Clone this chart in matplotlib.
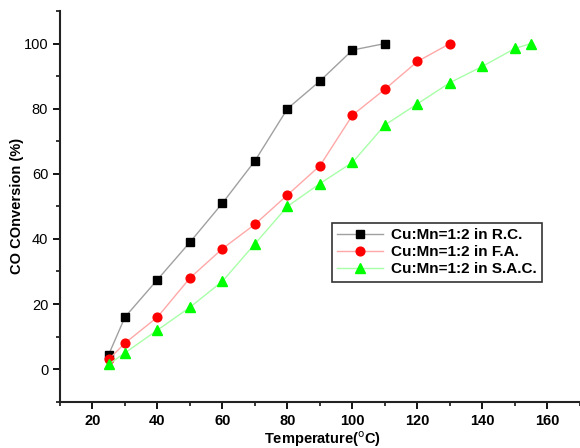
import matplotlib
matplotlib.use("Agg")
import matplotlib.pyplot as plt
from matplotlib.ticker import MultipleLocator

plt.rcParams['font.family'] = ['Liberation Sans', 'DejaVu Sans']

# CO conversion vs temperature for three supports
temp_rc = [25, 30, 40, 50, 60, 70, 80, 90, 100, 110]
conv_rc = [4.5, 16, 27.5, 39, 51, 64, 80, 88.5, 98, 100]

temp_fa = [25, 30, 40, 50, 60, 70, 80, 90, 100, 110, 120, 130]
conv_fa = [3, 8, 16, 28, 37, 44.5, 53.5, 62.5, 78, 86, 94.5, 100]

temp_sac = [25, 30, 40, 50, 60, 70, 80, 90, 100, 110, 120, 130, 140, 150, 155]
conv_sac = [1.5, 5, 12, 19, 27, 38.5, 50, 57, 63.5, 75, 81.5, 88, 93, 98.5, 100]

labels = ['Cu:Mn=1:2 in R.C.', 'Cu:Mn=1:2 in F.A.', 'Cu:Mn=1:2 in S.A.C.']

fig = plt.figure(figsize=(5.8, 4.48), dpi=100)
ax = fig.add_axes([0.1034, 0.1033, 0.8966, 0.8722])

ax.plot(temp_rc, conv_rc, color='#a0a0a0', lw=1.0, marker='s', ms=5.5,
        mfc='black', mec='black', label=labels[0])
ax.plot(temp_fa, conv_fa, color='#ffa8a8', lw=1.0, marker='o', ms=6.3,
        mfc='red', mec='red', label=labels[1])
ax.plot(temp_sac, conv_sac, color='#a8ffa8', lw=1.0, marker='^', ms=6.8,
        mfc='#00ff00', mec='#00ff00', label=labels[2])

ax.set_xlim(10, 170)
ax.set_ylim(-10, 110)
ax.xaxis.set_minor_locator(MultipleLocator(10))
ax.yaxis.set_minor_locator(MultipleLocator(10))
ax.set_xticks(range(20, 161, 20))
ax.set_yticks(range(0, 101, 20))

for side in ['top', 'right']:
    ax.spines[side].set_visible(False)
for side in ['left', 'bottom']:
    ax.spines[side].set_linewidth(1.5)
    ax.spines[side].set_color('#222222')

ax.tick_params(which='major', direction='out', length=5, width=1.3, labelsize=10.5)
ax.tick_params(which='minor', direction='out', length=3, width=1.1)
for t in ax.get_xticklabels():
    t.set_fontweight('bold')

ax.set_xlabel('Temperature($^{\\mathrm{o}}$C)', fontsize=10.5, fontweight='bold')
ax.set_ylabel('CO COnversion (%)', fontsize=10.5, fontweight='bold')
ax.xaxis.set_label_coords(0.505, -0.072)
ax.yaxis.set_label_coords(-0.07, 0.5)

leg = ax.legend(loc='upper left', bbox_to_anchor=(0.523, 0.458),
                prop={'weight': 'bold', 'size': 11}, fancybox=False,
                edgecolor='#333333', framealpha=1, handlelength=3.0,
                borderpad=0.35, labelspacing=0.2, handletextpad=0.5,
                borderaxespad=0.0)
leg.get_frame().set_linewidth(1.2)

fig.savefig('out.png', dpi=100)
